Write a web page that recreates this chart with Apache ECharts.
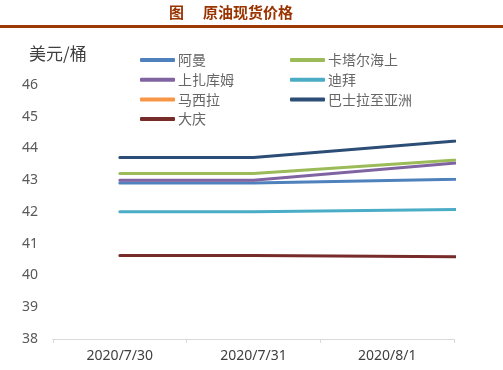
<!DOCTYPE html>
<html><head><meta charset="utf-8">
<script src="https://cdn.jsdelivr.net/npm/echarts@6/dist/echarts.min.js"></script>
<style>html,body{margin:0;padding:0;background:#fff}#c{width:503px;height:370px}</style>
</head><body><div id="c"></div>
<script>
// Dates: data for 8/3 lies beyond the visible axis (which ends at 8/1); lines run off the right edge.
const categories = ['2020/7/30', '2020/7/31', '2020/8/1', '2020/8/2', '2020/8/3'];
const oman        = [42.91, 42.91, null, null, 43.15];
const qatar       = [43.21, 43.21, null, null, 44.05];
const upperZakum  = [43.00, 43.00, null, null, 44.08];
const dubai       = [42.01, 42.01, null, null, 42.15];
const masila      = [null, null, null, null, null];
const basrahAsia  = [43.72, 43.72, null, null, 44.74];
const daqing      = [40.63, 40.63, null, null, 40.55];
const yTicks = [38, 39, 40, 41, 42, 43, 44, 45, 46];

const seriesDefs = [
  ['阿曼', oman, '#4F81BD'],
  ['卡塔尔海上', qatar, '#9BBB59'],
  ['上扎库姆', upperZakum, '#8064A2'],
  ['迪拜', dubai, '#4BACC6'],
  ['马西拉', masila, '#F79646'],
  ['巴士拉至亚洲', basrahAsia, '#2C4D75'],
  ['大庆', daqing, '#772C2A']
];

const chart = echarts.init(document.getElementById('c'), null, {renderer: 'canvas'});
const legendCommon = {
  orient: 'vertical', top: 53, padding: 0, itemWidth: 35, itemHeight: 4, itemGap: 5.7, icon: 'roundRect',
  textStyle: {color: '#666666', fontSize: 14, fontFamily: 'Noto Sans CJK SC', lineHeight: 14, padding: [0,0,0,-2]},
  selectedMode: false
};
const titleStyle = {fontSize: 15, fontWeight: 'bold', color: '#993300', fontFamily: 'Noto Sans CJK SC'};
chart.setOption({
  animation: false,
  title: [
    {text: '图', left: 169, top: 5, padding: 0, textStyle: titleStyle},
    {text: '原油现货价格', left: 203, top: 5, padding: 0, textStyle: titleStyle},
    {text: '美元/桶', left: 29, top: 45, padding: 0, textStyle: {fontSize: 17, fontWeight: 'normal', color: '#404040', fontFamily: 'Noto Sans CJK SC'}}
  ],
  graphic: [{type: 'rect', left: 0, top: 25, shape: {width: 503, height: 3}, style: {fill: '#9C3A06'}}],
  legend: [
    Object.assign({}, legendCommon, {left: 140, data: ['阿曼', '上扎库姆', '马西拉', '大庆']}),
    Object.assign({}, legendCommon, {left: 290, data: ['卡塔尔海上', '迪拜', '巴士拉至亚洲']})
  ],
  grid: {left: 53, right: 49, top: 85, bottom: 31},
  xAxis: {
    type: 'category', data: categories, boundaryGap: true, max: 2,
    axisLine: {lineStyle: {color: '#D9D9D9', width: 1}},
    axisTick: {show: true, length: 4, lineStyle: {color: '#D9D9D9'}},
    axisLabel: {color: '#404040', fontSize: 14, fontFamily: 'Noto Sans', margin: 10}
  },
  yAxis: {
    type: 'value', min: yTicks[0], max: yTicks[yTicks.length - 1], interval: 1,
    axisLine: {show: false}, axisTick: {show: false}, splitLine: {show: false},
    axisLabel: {color: '#595959', fontSize: 14, fontFamily: 'Noto Sans', margin: 15}
  },
  series: seriesDefs.map(([name, data, color]) => ({
    name, type: 'line', data, color, connectNulls: true, showSymbol: false, symbol: 'none',
    clip: true, lineStyle: {width: 3, color, cap: 'round'}
  }))
});
</script></body></html>
